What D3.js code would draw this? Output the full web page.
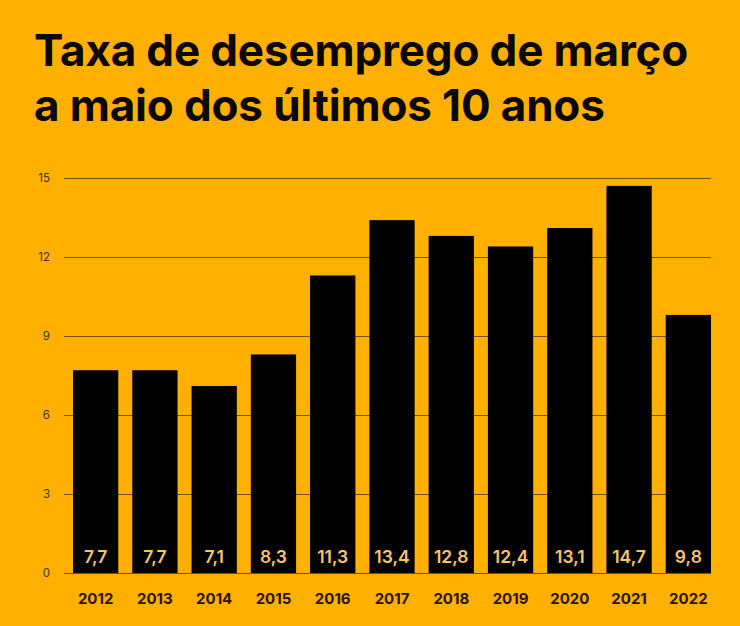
<!DOCTYPE html>
<html><head><meta charset="utf-8">
<script src="https://cdn.jsdelivr.net/npm/d3@7"></script>
<style>
html,body{margin:0;padding:0;background:#FFB000;}
svg{display:block;}
text{font-family:Inter,"Noto Sans",sans-serif;}
</style></head>
<body><svg id="c" width="740" height="626"></svg>
<script>
const years = ["2012","2013","2014","2015","2016","2017","2018","2019","2020","2021","2022"];
const rates = [7.7,7.7,7.1,8.3,11.3,13.4,12.8,12.4,13.1,14.7,9.8];
const yTicks = [0,3,6,9,12,15];
const titleLines = ["Taxa de desemprego de março","a maio dos últimos 10 anos"];

const svg = d3.select("#c");
svg.append("rect").attr("width",740).attr("height",626).attr("fill","#FFB000");

const x = d3.scaleBand().domain(years).range([73,711]).paddingInner(0.236).paddingOuter(0);
const y = d3.scaleLinear().domain([0,15]).range([573,178]);

svg.append("g").selectAll("text").data(titleLines).join("text")
  .attr("x",34).attr("y",(d,i)=>66+i*55)
  .attr("font-size",44).attr("font-weight",700).attr("fill","#0a0600")
  .attr("letter-spacing","-0.15")
  .text(d=>d);

// grid
const yAxis = d3.axisLeft(y).tickValues(yTicks).tickSize(-(711-64)).tickPadding(14).tickFormat(d3.format("d"));
const g = svg.append("g").attr("transform","translate(64,0)").call(yAxis);
g.select(".domain").remove();
g.selectAll(".tick line").attr("stroke","#7a5206").attr("stroke-width",1);
g.selectAll(".tick text").attr("fill","#4a3000").attr("font-size",11.5).attr("font-family","Inter,sans-serif");

svg.append("g").selectAll("rect").data(years).join("rect")
  .attr("x",d=>x(d)).attr("width",x.bandwidth())
  .attr("y",(d,i)=>y(rates[i])).attr("height",(d,i)=>y(0)-y(rates[i]))
  .attr("fill","#000");

svg.append("g").selectAll("text").data(years).join("text")
  .attr("x",d=>x(d)+x.bandwidth()/2).attr("y",563)
  .attr("text-anchor","middle").attr("font-size",17.5).attr("font-weight",600)
  .attr("fill","#F6C46C")
  .text((d,i)=>String(rates[i]).replace(".",","));

const xAxis = d3.axisBottom(x).tickSize(0).tickPadding(20);
const gx = svg.append("g").attr("transform","translate(0,573)").call(xAxis);
gx.select(".domain").remove();
gx.selectAll(".tick text").attr("fill","#2a1500").attr("font-size",15).attr("font-weight",700).attr("font-family","Inter,sans-serif");
</script></body></html>
